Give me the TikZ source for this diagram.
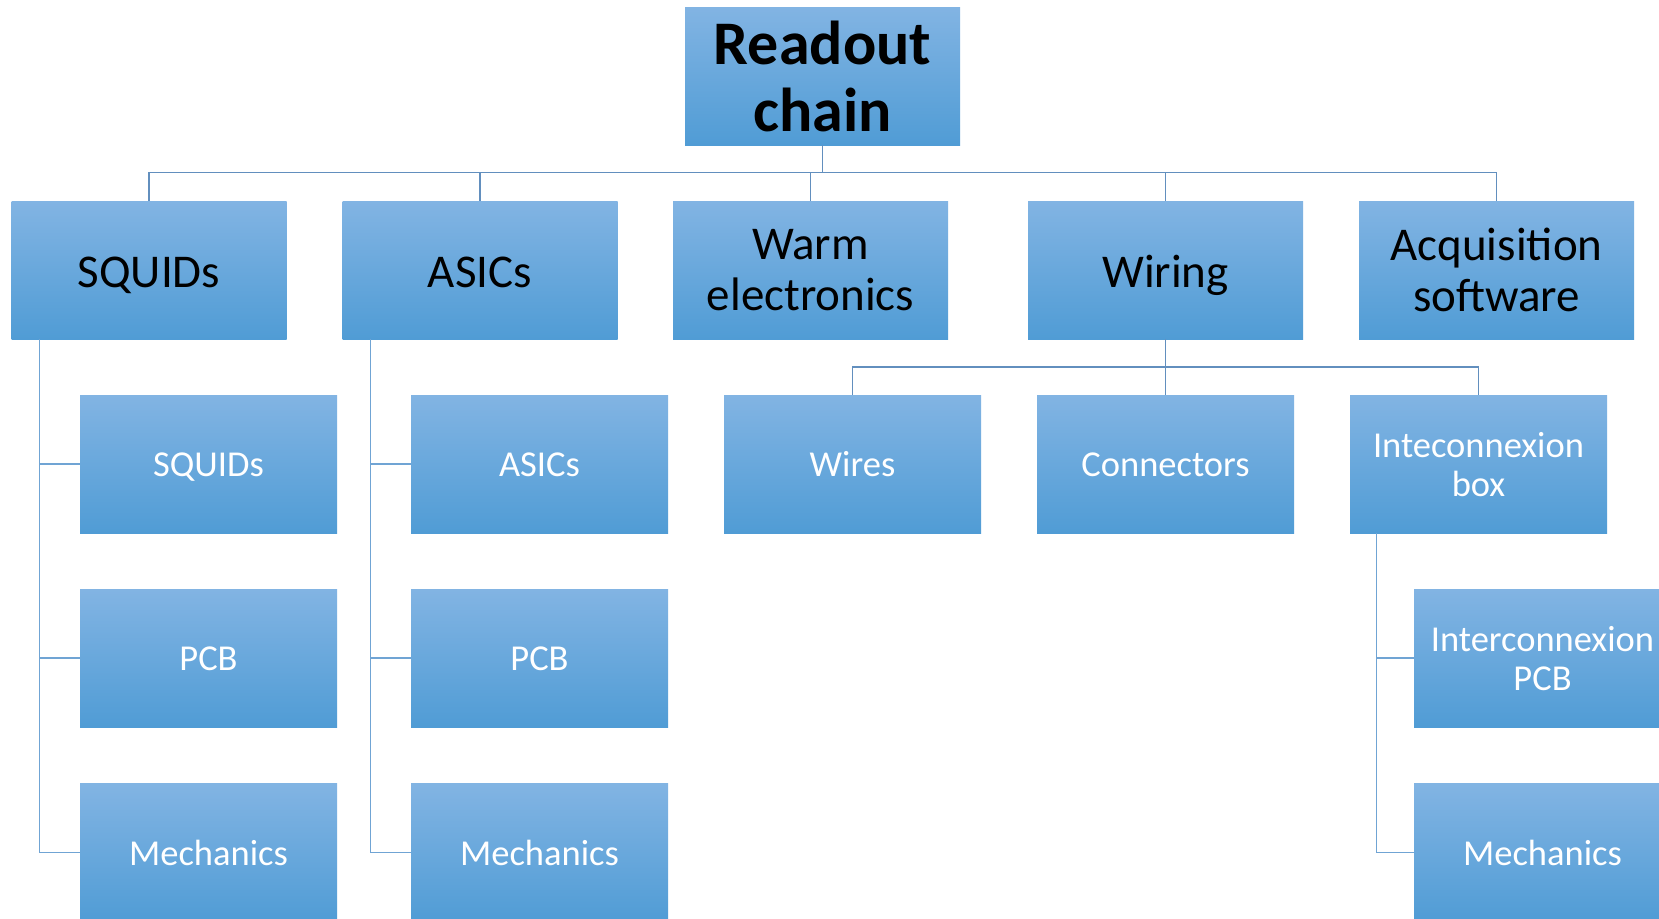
\documentclass[tikz,border=0pt]{standalone}
\usepackage{fontspec}
\setmainfont{Carlito}
\definecolor{gtop}{RGB}{130,180,227}
\definecolor{gmid}{RGB}{104,170,225}
\definecolor{gbot}{RGB}{80,156,213}
\definecolor{lineA}{RGB}{98,143,190}
\definecolor{lineB}{RGB}{112,164,212}
\tikzset{
  box/.style={rectangle, inner sep=0pt, align=center, top color=gtop, middle color=gmid, bottom color=gbot, draw=none},
  rootbox/.style={box, minimum width=275pt, minimum height=138pt, font={\fontsize{62}{67}\selectfont\bfseries}, text=black},
  lvlone/.style={box, minimum width=275pt, minimum height=138pt, font={\fontsize{47}{51}\selectfont}, text=black},
  lvltwo/.style={box, minimum width=257pt, minimum height=138pt, font={\fontsize{36.5}{39}\selectfont}, text=white},
  oneline/.style={text height=34pt, text depth=0pt},
  twoline/.style={text height=25.4pt, text depth=0pt},
  multilow/.style={text depth=-4pt},
  connA/.style={draw=lineA, line width=1.3pt},
  connB/.style={draw=lineB, line width=1.3pt},
}
\begin{document}
\begin{tikzpicture}[x=1pt,y=-1pt]
\useasboundingbox (0,0) rectangle (1659,918);
\clip (0,0) rectangle (1659,918);
\fill[white] (0,0) rectangle (1659,918);
% root
\node[rootbox] (root) at (822.5,76) {Readout\\chain};
% level 1
\node[lvlone, oneline] (squids) at (149,270) {SQUIDs};
\node[lvlone, oneline] (asics) at (480,270) {ASICs};
\node[lvlone, multilow] (warm) at (810.5,270) {Warm\\electronics};
\node[lvlone, oneline] (wiring) at (1165.5,270) {Wiring};
\node[lvlone, multilow] (acq) at (1496.5,270) {Acquisition\\software};
% level 2
\node[lvltwo, twoline] (sq1) at (208.5,464) {SQUIDs};
\node[lvltwo, twoline] (sq2) at (208.5,658) {PCB};
\node[lvltwo, twoline] (sq3) at (208.5,852.5) {Mechanics};
\node[lvltwo, twoline] (as1) at (539.5,464) {ASICs};
\node[lvltwo, twoline] (as2) at (539.5,658) {PCB};
\node[lvltwo, twoline] (as3) at (539.5,852.5) {Mechanics};
\node[lvltwo, twoline] (wires) at (852.5,464) {Wires};
\node[lvltwo, twoline] (conn) at (1165.5,464) {Connectors};
\node[lvltwo, multilow] (ibox) at (1478.5,464) {Inteconnexion\\box};
\node[lvltwo, multilow] (ib2) at (1542.5,658) {Interconnexion\\PCB};
\node[lvltwo, twoline] (ib3) at (1542.5,852.5) {Mechanics};
% top bar
\coordinate (bar) at (822.5,172.5);
\draw[connA] (root.south) -- (bar);
\draw[connA] (squids.north) |- (bar) -| (acq.north);
\draw[connA] (asics.north) -- (asics.north |- bar);
\draw[connA] (warm.north) -- (warm.north |- bar);
\draw[connA] (wiring.north) -- (wiring.north |- bar);
% wiring children
\coordinate (wbar) at (1165.5,367);
\draw[connA] (wiring.south) -- (conn.north);
\draw[connA] (wires.north) |- (wbar) -| (ibox.north);
% branches
\coordinate (sqb) at ([xshift=28pt]squids.south west);
\draw[connB] (sqb) |- (sq3.west);
\draw[connB] (sqb |- sq1.west) -- (sq1.west);
\draw[connB] (sqb |- sq2.west) -- (sq2.west);
\coordinate (asb) at ([xshift=28pt]asics.south west);
\draw[connB] (asb) |- (as3.west);
\draw[connB] (asb |- as1.west) -- (as1.west);
\draw[connB] (asb |- as2.west) -- (as2.west);
\coordinate (ibb) at ([xshift=27pt]ibox.south west);
\draw[connB] (ibb) |- (ib3.west);
\draw[connB] (ibb |- ib2.west) -- (ib2.west);
\end{tikzpicture}
\end{document}
